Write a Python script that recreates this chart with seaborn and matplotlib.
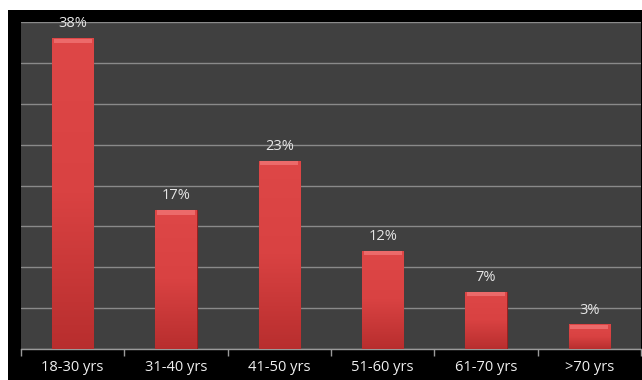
import numpy as np
import pandas as pd
import matplotlib
matplotlib.use("Agg")
import matplotlib.pyplot as plt
import seaborn as sns
from matplotlib.patches import Rectangle
from matplotlib.colors import LinearSegmentedColormap

categories = ["18-30 yrs", "31-40 yrs", "41-50 yrs", "51-60 yrs", "61-70 yrs", ">70 yrs"]
values = [38, 17, 23, 12, 7, 3]
labels = ["38%", "17%", "23%", "12%", "7%", "3%"]

df = pd.DataFrame({"cat": categories, "val": values})

sns.set_theme(style="dark")
plt.rcParams["font.family"] = ["Open Sans", "DejaVu Sans"]

W, H = 642, 380
fig = plt.figure(figsize=(W / 100, H / 100), dpi=100, facecolor="white")
# black chart background
fig.patches.append(Rectangle((8 / W, 0), 1 - 8 / W, 1 - 10 / H, transform=fig.transFigure,
                             facecolor="black", edgecolor="none", zorder=-10))

ax = fig.add_axes([21 / W, (H - 349) / H, (641 - 21) / W, (349 - 22) / H])
ax.set_zorder(5)
ax.set_facecolor("#404040")

sns.barplot(data=df, x="cat", y="val", ax=ax, width=0.4, color="#d63c3c",
            edgecolor="#9a2020", linewidth=0.8, saturation=1, zorder=3)

# gradient shading on bars
grad = np.linspace(0, 1, 256).reshape(-1, 1)
cmap = LinearSegmentedColormap.from_list("r", ["#b82e2e", "#d94242", "#de4747"])
bars = list(ax.patches)
for p in bars:
    x0, y0 = p.get_x(), p.get_y()
    w, h = p.get_width(), p.get_height()
    im = ax.imshow(grad, extent=[x0, x0 + w, y0, y0 + h], aspect="auto",
                   cmap=cmap, origin="lower", zorder=3.5)
    im.set_clip_path(p)
    # bevel highlight at the top
    ax.add_patch(Rectangle((x0 + w * 0.04, y0 + h - 0.55), w * 0.92, 0.5,
                           facecolor="#ec6a6a", edgecolor="none", zorder=3.6))

for p, lab in zip(bars, labels):
    ax.text(p.get_x() + p.get_width() / 2, p.get_height() + 0.85, lab,
            ha="center", va="bottom", color="#e6e6e6", fontsize=10.5)

ax.set_ylim(0, 40)
ax.set_xlim(-0.5, len(categories) - 0.5)
ax.set_yticks(np.arange(0, 41, 5))
ax.set_yticklabels([])
ax.tick_params(axis="y", length=0)
ax.yaxis.grid(True, color="#8a8a8a", linewidth=1.0)
ax.xaxis.grid(False)
ax.set_axisbelow(True)

ax.set_xticks(range(len(categories)))
ax.set_xticklabels(categories, color="#f0f0f0", fontsize=10.5)
ax.tick_params(axis="x", length=0, pad=8)
ax.set_xticks(np.arange(-0.5, len(categories), 1.0), minor=True)
ax.tick_params(axis="x", which="minor", length=5, color="#9a9a9a", width=1, direction="out", bottom=True)

ax.set_xlabel("")
ax.set_ylabel("")
for s in ["top", "right", "left"]:
    ax.spines[s].set_visible(False)
ax.spines["bottom"].set_visible(True)
ax.spines["bottom"].set_color("#9a9a9a")
ax.spines["bottom"].set_linewidth(1.0)

fig.savefig("out.png", dpi=100, facecolor="white")
